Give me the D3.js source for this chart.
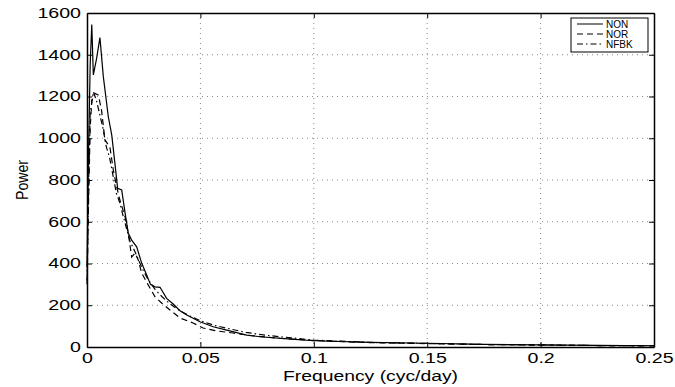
<!DOCTYPE html>
<html>
<head>
<meta charset="utf-8">
<script src="https://cdn.jsdelivr.net/npm/d3@7"></script>
<style>
  body { margin: 0; background: #fff; }
  text { font-family: "Liberation Sans", Arial, sans-serif; }
</style>
</head>
<body>
<div id="chart"></div>
<script>
// spectra: frequency (cyc/day) and power
const nonFreq = [0, 0.0007, 0.0014, 0.0021, 0.0028, 0.0042, 0.0057, 0.0072, 0.0094, 0.0109, 0.0123, 0.0135, 0.0153, 0.0168, 0.0182, 0.0197, 0.0219, 0.0241, 0.0263, 0.028, 0.030, 0.0322, 0.0351, 0.038, 0.041, 0.044, 0.0498, 0.0556, 0.0616, 0.0704, 0.0763, 0.09, 0.1, 0.125, 0.15, 0.175, 0.2, 0.225, 0.25];
const nonPower = [380, 950, 1350, 1545, 1303, 1380, 1482, 1295, 1103, 1016, 881, 760, 752, 641, 545, 512, 480, 402, 345, 300, 288, 286, 233, 206, 174, 153, 121, 97, 81, 57, 49, 38, 30, 22, 18, 13, 10, 8, 6];

const norFreq = [0, 0.0007, 0.0014, 0.0021, 0.0035, 0.0050, 0.0064, 0.0072, 0.0079, 0.0101, 0.0116, 0.0131, 0.0145, 0.0168, 0.0182, 0.0197, 0.0212, 0.0226, 0.0241, 0.027, 0.030, 0.0329, 0.0366, 0.041, 0.0468, 0.0512, 0.0571, 0.0644, 0.072, 0.085, 0.1, 0.125, 0.15, 0.175, 0.2, 0.225, 0.25];
const norPower = [300, 700, 1050, 1180, 1215, 1207, 1135, 1060, 992, 958, 848, 767, 704, 623, 545, 431, 450, 417, 354, 297, 240, 211, 177, 139, 115, 91, 77, 67, 55, 42, 31, 21, 16, 12, 9, 7, 5];

const nfbkFreq = [0, 0.0007, 0.0014, 0.0028, 0.0042, 0.0057, 0.007, 0.0085, 0.01, 0.0115, 0.013, 0.0145, 0.016, 0.0175, 0.019, 0.021, 0.023, 0.025, 0.027, 0.030, 0.033, 0.036, 0.040, 0.045, 0.050, 0.056, 0.062, 0.070, 0.080, 0.1, 0.125, 0.15, 0.175, 0.2, 0.225, 0.25];
const nfbkPower = [320, 750, 1120, 1222, 1180, 1110, 1050, 960, 905, 820, 735, 690, 625, 565, 505, 460, 410, 362, 322, 276, 242, 212, 180, 150, 126, 104, 89, 70, 55, 33, 22, 17, 12, 10, 7, 6];

const xTicks = [0, 0.05, 0.1, 0.15, 0.2, 0.25];
const yTicks = [0, 200, 400, 600, 800, 1000, 1200, 1400, 1600];

const series = [
  { name: "NON", freq: nonFreq, power: nonPower, dash: null },
  { name: "NOR", freq: norFreq, power: norPower, dash: "6,4" },
  { name: "NFBK", freq: nfbkFreq, power: nfbkPower, dash: "6,3,1.5,3" }
];

const W = 675, H = 387;
const margin = { left: 87, right: 21, top: 13, bottom: 40 };
const width = W - margin.left - margin.right;
const height = H - margin.top - margin.bottom;

// the reference glyphs are wide, so stretch text horizontally
function widen(sel, k) {
  sel.each(function () {
    const len = this.getComputedTextLength();
    d3.select(this).attr("textLength", len * k).attr("lengthAdjust", "spacingAndGlyphs");
  });
}

const svg = d3.select("#chart").append("svg")
  .attr("width", W).attr("height", H);
const g = svg.append("g")
  .attr("transform", "translate(" + margin.left + "," + margin.top + ")");

const x = d3.scaleLinear().domain([0, 0.25]).range([0, width]);
const y = d3.scaleLinear().domain([0, 1600]).range([height, 0]);

// dotted grid
g.append("g").selectAll("line").data(xTicks.slice(1, -1)).enter().append("line")
  .attr("x1", d => x(d)).attr("x2", d => x(d))
  .attr("y1", 0).attr("y2", height)
  .attr("stroke", "#888").attr("stroke-dasharray", "1,4");
g.append("g").selectAll("line").data(yTicks.slice(1, -1)).enter().append("line")
  .attr("y1", d => y(d)).attr("y2", d => y(d))
  .attr("x1", 0).attr("x2", width)
  .attr("stroke", "#888").attr("stroke-dasharray", "1,4");

// curves
const line = d3.line().x(d => x(d[0])).y(d => y(d[1]));
series.forEach(s => {
  g.append("path")
    .datum(s.freq.map((f, i) => [f, s.power[i]]))
    .attr("d", line)
    .attr("fill", "none")
    .attr("stroke", "#000")
    .attr("stroke-width", 1.2)
    .attr("stroke-dasharray", s.dash);
});

// axes (ticks inside, like matlab)
g.append("g").attr("transform", "translate(0," + height + ")")
  .call(d3.axisBottom(x).tickValues(xTicks).tickSizeInner(-5).tickSizeOuter(0)
    .tickFormat(d => d === 0 ? "0" : String(d)).tickPadding(6));
g.append("g")
  .call(d3.axisLeft(y).tickValues(yTicks).tickFormat(d3.format("d"))
    .tickSizeInner(-5).tickSizeOuter(0).tickPadding(6));
g.append("g")
  .call(d3.axisTop(x).tickValues(xTicks).tickSizeInner(-5).tickSizeOuter(0).tickFormat(""));
g.append("g").attr("transform", "translate(" + width + ",0)")
  .call(d3.axisRight(y).tickValues(yTicks).tickSizeInner(-5).tickSizeOuter(0).tickFormat(""));
g.selectAll(".domain").attr("stroke", "#000").attr("stroke-width", 1.5);
g.selectAll(".tick line").attr("stroke", "#000");
g.selectAll(".tick text").attr("font-size", 14).attr("fill", "#000")
  .style("font-family", "'Liberation Sans', Arial, sans-serif");
widen(g.selectAll(".tick text"), 1.4);

// labels
const xl = svg.append("text")
  .attr("x", margin.left + width / 2).attr("y", 381)
  .attr("text-anchor", "middle").attr("font-size", 14)
  .text("Frequency (cyc/day)");
widen(xl, 1.38);
svg.append("text")
  .attr("transform", "translate(28," + (margin.top + height / 2) + ") rotate(-90)")
  .attr("text-anchor", "middle").attr("font-size", 16)
  .attr("textLength", 40).attr("lengthAdjust", "spacingAndGlyphs")
  .text("Power");

// legend
const leg = svg.append("g").attr("transform", "translate(571,18)");
leg.append("rect").attr("width", 77).attr("height", 34)
  .attr("fill", "#fff").attr("stroke", "#000");
series.forEach((s, i) => {
  const yy = 6 + i * 10;
  leg.append("line").attr("x1", 6).attr("x2", 32).attr("y1", yy).attr("y2", yy)
    .attr("stroke", "#000").attr("stroke-dasharray", s.dash);
  leg.append("text").attr("x", 35).attr("y", yy + 3.5)
    .attr("font-size", 10).text(s.name);
});
</script>
</body>
</html>
